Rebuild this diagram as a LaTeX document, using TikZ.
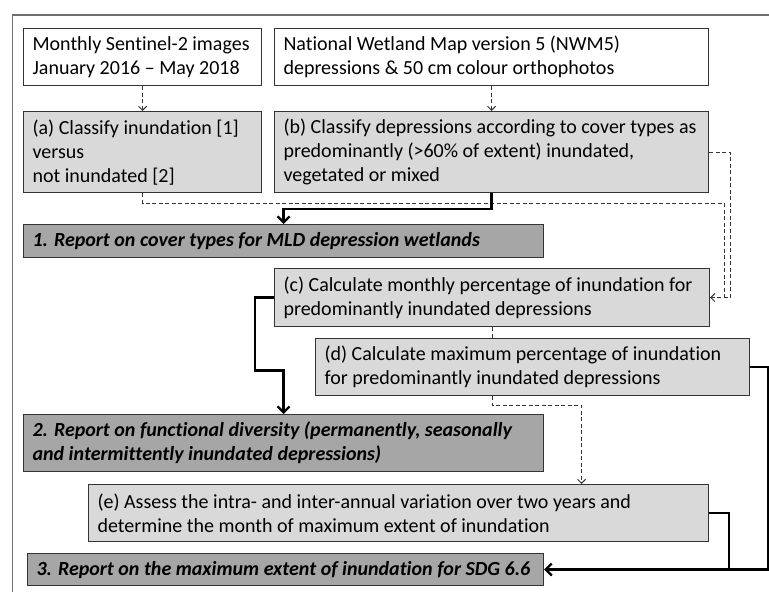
\documentclass[tikz,border=0pt]{standalone}
\usepackage{fontspec}
\setmainfont{Carlito}[Ligatures=NoCommon]
\usetikzlibrary{arrows.meta,positioning}

\definecolor{stagegray}{HTML}{D9D9D9}
\definecolor{reportgray}{HTML}{A6A6A6}
\definecolor{framegray}{HTML}{6E6E6E}
\definecolor{edgegray}{HTML}{333333}

\newcommand{\boxfont}{\fontsize{20}{24}\selectfont}

\tikzset{
  box/.style args={#1x#2}{draw=edgegray, line width=1.1pt, anchor=north west,
    minimum width=#1pt, minimum height=#2pt, text width=#1pt-18pt,
    inner xsep=9pt, inner ysep=0pt, align=flush left, font=\boxfont},
  source/.style={box=#1, fill=white},
  stage/.style={box=#1, fill=stagegray},
  report/.style={box=#1, fill=reportgray, font=\boxfont\bfseries\itshape},
  flow/.style={draw=edgegray, line width=1pt, dash pattern=on 4pt off 2.5pt},
  main/.style={draw=black, line width=2.3pt}
}

\begin{document}
\begin{tikzpicture}[x=1pt,y=-1pt]
  \useasboundingbox (0,0) rectangle (769,592);
  % frame
  \draw[framegray, line width=1.8pt] (769,15) -- (12.5,15) -- (12.5,592);

  % inputs
  \node[source=238x57] (sentinel) at (23,28) {Monthly Sentinel-2 images\\January 2016 -- May 2018};
  \node[source=434x57] (nwm) at (274,28) {National Wetland Map version 5 (NWM5)\\depressions \& 50 cm colour orthophotos};

  % processing steps
  \node[stage=238x81] (classA) at (23,111) {(a) Classify inundation [1]\\versus\\not inundated [2]};
  \node[stage=434x81] (classB) at (274,111) {(b) Classify depressions according to cover types as\\predominantly (>60\% of extent) inundated,\\vegetated or mixed};
  \node[report=520x33] (rep1) at (23,224) {1. Report on cover types for MLD depression wetlands};
  \node[stage=435x58] (calcC) at (274,268) {(c) Calculate monthly percentage of inundation for\\predominantly inundated depressions};
  \node[stage=434x57] (calcD) at (315,338) {(d) Calculate maximum percentage of inundation\\for predominantly inundated depressions};
  \node[report=520x57] (rep2) at (23,414) {2. Report on functional diversity (permanently, seasonally\\and intermittently inundated depressions)};
  \node[stage=620x57] (assessE) at (88,484) {(e) Assess the intra- and inter-annual variation over two years and\\determine the month of maximum extent of inundation};
  \node[report=516x32] (rep3) at (27,553) {3. Report on the maximum extent of inundation for SDG 6.6};

  % dashed data flow
  \draw[flow,-{Straight Barb[length=4pt,width=8pt]}] (sentinel.south) -- (classA.north);
  \draw[flow,-{Straight Barb[length=4pt,width=8pt]}] (nwm.south) -- (classB.north);
  \draw[flow] (classA.south) -- ++(0,10) -| ([xshift=14pt]calcC.east) -- (calcC.east);
  \draw[flow,-{Straight Barb[length=4pt,width=8pt]}] (classB.east) -| ([xshift=20pt]calcC.east) -- (calcC.east);
  \draw[flow] (calcC.south) -- (calcC.south |- calcD.north);
  \draw[flow,-{Straight Barb[length=4pt,width=8pt]}] (calcC.south |- calcD.south) -- ++(0,9) -| ([xshift=183pt]assessE.north);

  % reporting
  \draw[main,-{Straight Barb[length=6pt,width=12pt]}] (classB.south) -- ++(0,16) -| (rep1.north);
  \draw[main,-{Straight Barb[length=6pt,width=12pt]}] (calcC.west) -- ++(-19,0) -- ++(0,73) -| (rep2.north);
  \draw[main,-{Straight Barb[length=6pt,width=12pt]}] (calcD.east) -- ++(18,0) |- (rep3.east);
  \draw[main] (assessE.east) -- ++(20,0) coordinate (eTurn) -- (eTurn |- rep3.east);
\end{tikzpicture}
\end{document}
